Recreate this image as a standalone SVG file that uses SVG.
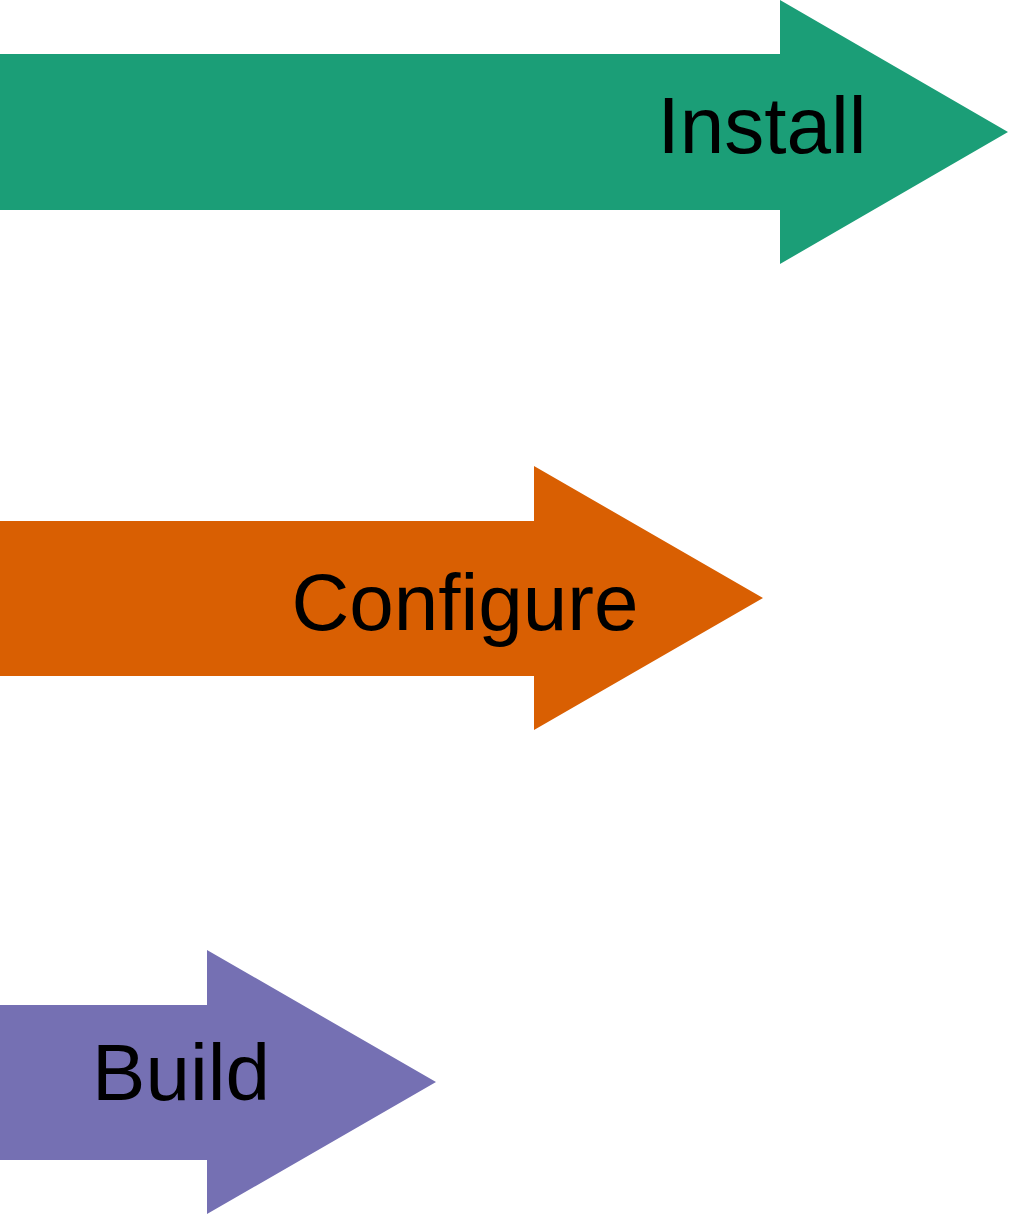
<svg xmlns="http://www.w3.org/2000/svg" width="1009" height="1215" viewBox="0 0 1009 1215">
<style>
.lbl{font-family:"Liberation Sans",Arial,sans-serif;font-size:80px;fill:#000;text-anchor:middle}
</style>
<rect width="1009" height="1215" fill="#fff"/>
<g id="install">
<polygon points="0,54 780,54 780,0 1008,132 780,264 780,210 0,210" fill="#1b9e77"/>
<text class="lbl" x="762" y="153">Install</text>
</g>
<g id="configure">
<polygon points="0,521 534,521 534,466 763,598 534,730 534,676 0,676" fill="#d95f02"/>
<text class="lbl" x="465" y="630">Configure</text>
</g>
<g id="build">
<polygon points="0,1005 207,1005 207,950 436,1082 207,1214 207,1160 0,1160" fill="#7570b3"/>
<text class="lbl" x="181" y="1100">Build</text>
</g>
<g id="connectors"></g>
</svg>
